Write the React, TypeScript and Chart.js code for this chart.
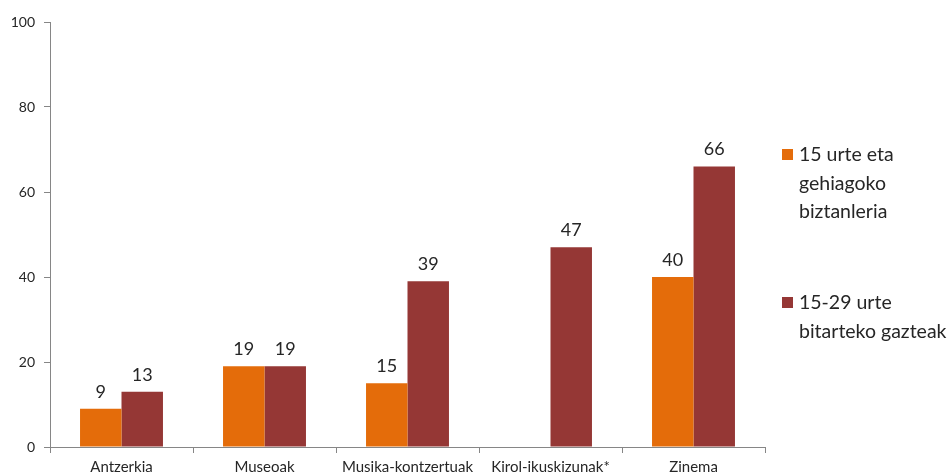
import React, { useEffect, useRef } from "react";
import { Chart, registerables } from "chart.js";

Chart.register(...registerables);

const categories = ["Antzerkia", "Museoak", "Musika-kontzertuak", "Kirol-ikuskizunak*", "Zinema"];
const seriesAll = [9, 19, 15, null, 40];
const seriesYoung = [13, 19, 39, 47, 66];
const legendLabels = [
  ["15 urte eta", "gehiagoko", "biztanleria"],
  ["15-29 urte", "bitarteko gazteak"],
];
const colors = ["#E46C0A", "#953735"];
const FONT = "Lato, 'Open Sans', sans-serif";

const valueLabels = {
  id: "valueLabels",
  afterDatasetsDraw(chart: any) {
    const ctx = chart.ctx;
    ctx.save();
    ctx.font = `18px ${FONT}`;
    ctx.fillStyle = "#262626";
    ctx.textAlign = "center";
    ctx.textBaseline = "bottom";
    chart.data.datasets.forEach((ds: any, i: number) => {
      const meta = chart.getDatasetMeta(i);
      meta.data.forEach((el: any, j: number) => {
        const v = ds.data[j];
        if (v === null || v === undefined) return;
        ctx.fillText(String(v), el.x, el.y - 8);
      });
    });
    ctx.restore();
  },
};

const sideLegend = {
  id: "sideLegend",
  afterDraw(chart: any) {
    const ctx = chart.ctx;
    ctx.save();
    ctx.font = `19.5px ${FONT}`;
    ctx.textBaseline = "middle";
    const starts = [155, 303];
    legendLabels.forEach((lines, i) => {
      ctx.fillStyle = colors[i];
      ctx.fillRect(782, starts[i] - 6, 11, 11);
      ctx.fillStyle = "#262626";
      lines.forEach((t, k) => {
        ctx.fillText(t, 799, starts[i] + k * 28.5);
      });
    });
    ctx.restore();
  },
};

export default function App() {
  const ref = useRef<HTMLCanvasElement>(null);
  useEffect(() => {
    const chart = new Chart(ref.current!, {
      type: "bar",
      data: {
        labels: categories,
        datasets: [
          { label: "15 urte eta gehiagoko biztanleria", data: seriesAll, backgroundColor: colors[0] },
          { label: "15-29 urte bitarteko gazteak", data: seriesYoung, backgroundColor: colors[1] },
        ],
      },
      options: {
        animation: false,
        responsive: false,
        maintainAspectRatio: false,
        layout: { padding: { left: 0, right: 187, top: 22, bottom: 0 } },
        plugins: { legend: { display: false }, tooltip: { enabled: false } },
        datasets: { bar: { categoryPercentage: 0.58, barPercentage: 1 } },
        scales: {
          x: {
            offset: true,
            grid: { offset: true, drawOnChartArea: false, drawTicks: true, tickLength: 6, color: "#868686" },
            border: { display: true, color: "#868686" },
            ticks: { font: { family: FONT, size: 15 }, color: "#262626", padding: 5, maxRotation: 0, autoSkip: false },
            afterFit(s: any) { s.height = 28; },
          },
          y: {
            min: 0,
            max: 100,
            ticks: { stepSize: 20, font: { family: FONT, size: 14 }, color: "#262626", padding: 9 },
            grid: { drawOnChartArea: false, drawTicks: true, tickLength: 6, color: "#868686" },
            border: { display: true, color: "#868686" },
            afterFit(s: any) { s.width = 50; },
          },
        },
      },
      plugins: [valueLabels, sideLegend],
    } as any);
    return () => chart.destroy();
  }, []);
  return (
    <div style={{ position: "fixed", left: 0, top: 0, width: 952, height: 475, background: "#fff" }}>
      <canvas ref={ref} width={952} height={475} style={{ width: 952, height: 475 }} />
    </div>
  );
}
